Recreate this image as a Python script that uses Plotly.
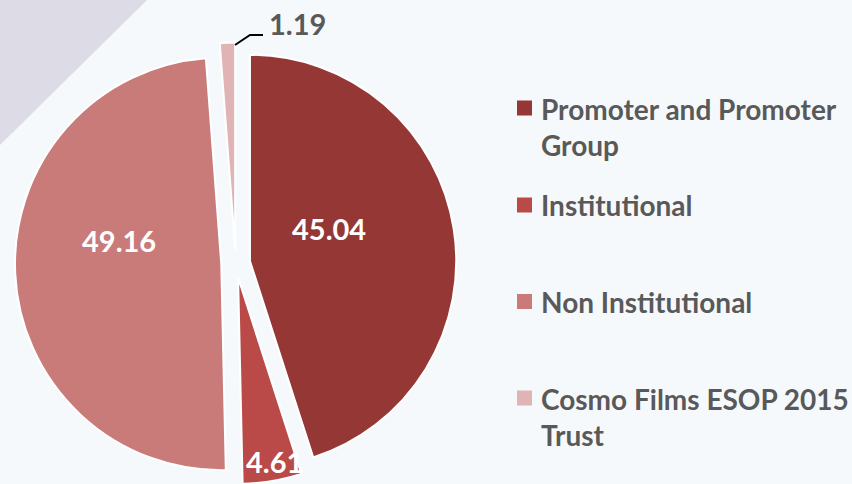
import plotly.graph_objects as go

# ---- data ----
categories = ["Promoter and Promoter Group", "Institutional", "Non Institutional", "Cosmo Films ESOP 2015 Trust"]
legend_labels = ["Promoter and Promoter<br>Group", "Institutional", "Non Institutional", "Cosmo Films ESOP 2015<br>Trust"]
values = [45.04, 4.61, 49.16, 1.19]
colors = ["#953735", "#B94A48", "#C97B7A", "#E0B3B4"]

W, H = 852, 484
FONT = "Lato"
TXT = "#595959"

def px(x):
    return x / W

def py(y):
    return 1 - y / H

fig = go.Figure(go.Pie(
    labels=categories,
    values=values,
    sort=False,
    direction="clockwise",
    rotation=0,
    pull=[0.07, 0.07, 0.07, 0.07],
    marker=dict(colors=colors, line=dict(color="white", width=2)),
    textinfo="none",
    domain=dict(x=[px(15), px(456.4)], y=[0, 0.912]),
    showlegend=False,
    hoverinfo="label+value",
))

shapes = [
    # background triangle
    dict(type="path", xref="paper", yref="paper",
         path=f"M 0 1 L {px(147)} 1 L 0 {py(145)} Z",
         fillcolor="#DCDBE6", line=dict(width=0), layer="below"),
    # leader line for small slice label
    dict(type="path", xref="paper", yref="paper",
         path=f"M {px(235)} {py(45)} L {px(250)} {py(35)} L {px(263)} {py(35)}",
         line=dict(color="black", width=2)),
]

# data labels (positions per slice, text from values)
label_pos = [(329, 229), (274, 461), (119, 240), (297, 23)]
label_col = ["white", "white", "white", TXT]
annotations = []
for v, (lx, ly), c in zip(values, label_pos, label_col):
    annotations.append(dict(text=f"{v:.2f}", x=px(lx), y=py(ly), xref="paper", yref="paper",
                            xanchor="center", yanchor="middle", showarrow=False,
                            font=dict(family=FONT, size=29, color=c, weight=700)))

# legend (manual, for exact spacing)
legend_y = [126.5, 205, 301.5, 417]
square_y = [108, 205, 301.5, 398]
for lab, col, ly, sy in zip(legend_labels, colors, legend_y, square_y):
    shapes.append(dict(type="rect", xref="paper", yref="paper",
                       x0=px(517), x1=px(532), y0=py(sy + 7.5), y1=py(sy - 7.5),
                       fillcolor=col, line=dict(width=0)))
    annotations.append(dict(text=lab, x=px(539), y=py(ly), xref="paper", yref="paper",
                            xanchor="left", yanchor="middle", align="left", showarrow=False,
                            font=dict(family=FONT, size=28, color=TXT, weight=700)))

fig.update_layout(
    width=W, height=H,
    margin=dict(l=0, r=0, t=0, b=0),
    paper_bgcolor="#F6F9FC",
    plot_bgcolor="#F6F9FC",
    shapes=shapes,
    annotations=annotations,
)

fig.write_html("out.html", config={"displayModeBar": False},
               post_script="document.body.style.margin='0';")
